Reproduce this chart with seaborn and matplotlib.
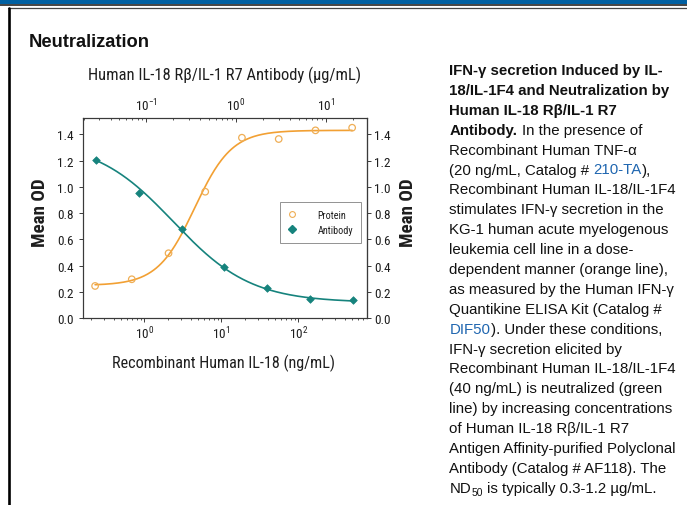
import numpy as np
import pandas as pd
import matplotlib
matplotlib.use("Agg")
import matplotlib.pyplot as plt
import seaborn as sns
from matplotlib import font_manager
from matplotlib.lines import Line2D
from matplotlib.patches import Rectangle
from matplotlib.ticker import FixedLocator, FormatStrFormatter

# ---------------- data ----------------
protein_conc = [0.229, 0.686, 2.06, 6.17, 18.5, 55.6, 167, 500]        # ng/mL (bottom axis)
protein_od = [0.246, 0.297, 0.495, 0.963, 1.374, 1.364, 1.430, 1.450]
antibody_conc = [0.0274, 0.0823, 0.247, 0.741, 2.22, 6.67, 20.0]        # ug/mL (top axis)
antibody_od = [1.204, 0.950, 0.678, 0.389, 0.229, 0.145, 0.137]

# 4-parameter logistic fit parameters (bottom, top, midpoint, hill)
protein_fit = (0.25, 1.43, 4.5, 1.8)
antibody_fit = (0.12, 1.35, 0.20, 1.0)

y_ticks = [0.0, 0.2, 0.4, 0.6, 0.8, 1.0, 1.2, 1.4]
legend_labels = ["Protein", "Antibody"]

top_title = "Human IL-18 R\u03b2/IL-1 R7 Antibody (\u03bcg/mL)"
bottom_title = "Recombinant Human IL-18 (ng/mL)"
y_title = "Mean OD"
heading = "Neutralization"

BLUE_LINK = "#1f66b0"
para = [
    [("IFN-\u03b3 secretion Induced by IL-", "b")],
    [("18/IL-1F4 and Neutralization by", "b")],
    [("Human IL-18 R\u03b2/IL-1 R7", "b")],
    [("Antibody.", "b"), (" In the presence of", "n")],
    [("Recombinant Human TNF-\u03b1", "n")],
    [("(20 ng/mL, Catalog # ", "n"), ("210-TA", "l"), ("),", "n")],
    [("Recombinant Human IL-18/IL-1F4", "n")],
    [("stimulates IFN-\u03b3 secretion in the", "n")],
    [("KG-1 human acute myelogenous", "n")],
    [("leukemia cell line in a dose-", "n")],
    [("dependent manner (orange line),", "n")],
    [("as measured by the Human IFN-\u03b3", "n")],
    [("Quantikine ELISA Kit (Catalog #", "n")],
    [("DIF50", "l"), ("). Under these conditions,", "n")],
    [("IFN-\u03b3 secretion elicited by", "n")],
    [("Recombinant Human IL-18/IL-1F4", "n")],
    [("(40 ng/mL) is neutralized (green", "n")],
    [("line) by increasing concentrations", "n")],
    [("of Human IL-18 R\u03b2/IL-1 R7", "n")],
    [("Antigen Affinity-purified Polyclonal", "n")],
    [("Antibody (Catalog # AF118). The", "n")],
    [("ND", "n"), ("50", "s"), (" is typically 0.3-1.2 \u00b5g/mL.", "n")],
]

# ---------------- style ----------------
sns.set_theme(style="ticks")


def has_font(name):
    try:
        font_manager.findfont(font_manager.FontProperties(family=name), fallback_to_default=False)
        return True
    except Exception:
        return False


def find_condensed():
    for name in ["Liberation Sans Narrow", "Arial Narrow", "Roboto Condensed",
                 "Open Sans Condensed", "Noto Sans Condensed", "DejaVu Sans Condensed"]:
        if has_font(name):
            return name, "normal"
    for f in font_manager.fontManager.ttflist:
        if ("Narrow" in f.name or "Condensed" in f.name) and f.style == "normal":
            return f.name, "normal"
    for f in font_manager.fontManager.ttflist:
        if str(f.stretch) in ("condensed", "semi-condensed") and f.style == "normal":
            return f.name, str(f.stretch)
    return ("Liberation Sans" if has_font("Liberation Sans") else "DejaVu Sans"), "normal"


NARROW, STRETCH = find_condensed()
ARIAL = "Liberation Sans" if has_font("Liberation Sans") else "DejaVu Sans"
plt.rcParams["font.family"] = [NARROW, "DejaVu Sans"]
plt.rcParams["font.stretch"] = STRETCH
plt.rcParams["mathtext.fontset"] = "custom"
plt.rcParams["mathtext.rm"] = NARROW
plt.rcParams["mathtext.it"] = NARROW + ":italic"
plt.rcParams["mathtext.bf"] = NARROW + ":bold"
plt.rcParams["axes.unicode_minus"] = False

ORANGE = "#F2A033"
ORANGE_M = "#EFAE55"
TEAL = "#16837D"
SPINE = "#3a3a3a"
TXT = "#1e1e1e"

W, H = 687, 506
fig = plt.figure(figsize=(W / 100, H / 100), dpi=100)
fig.patch.set_facecolor("white")
renderer = fig.canvas.get_renderer()


def fx(px):
    return px / W


def fy(py):
    return 1 - py / H


def width_of(s, kw):
    t = fig.text(0, 0, s, **kw)
    w = t.get_window_extent(renderer).width
    t.remove()
    return w


def fit_size(s, target_px, **kw):
    w = width_of(s, dict(kw, fontsize=10))
    return 10 * target_px / w


# page decoration
fig.add_artist(Rectangle((0, fy(5.2)), 1, 5.2 / H, transform=fig.transFigure, color="#0060A2", lw=0))
fig.add_artist(Line2D([0, 1], [fy(6.2), fy(6.2)], transform=fig.transFigure, color="#111111", lw=1.1))
fig.add_artist(Line2D([fx(8), 1], [fy(9.3), fy(9.3)], transform=fig.transFigure, color="#444444", lw=0.9))
fig.add_artist(Line2D([fx(8.7), fx(8.7)], [0, fy(9.0)], transform=fig.transFigure, color="#000000", lw=1.9))

# font sizes fitted to the reference text widths
TICK_FS = fit_size("1.4", 16.5)
TITLE_FS = fit_size(top_title, 272)
XLAB_FS = fit_size(bottom_title, 223)
YLAB_FS = fit_size(y_title, 68, fontweight="bold")
LEG_FS = fit_size("Antibody", 35)

# ---------------- axes ----------------
L, R, T, B = 82.7, 366.7, 119.0, 319.3
ax = fig.add_axes([fx(L), fy(B), (R - L) / W, (B - T) / H])
ax.set_xscale("log")
ax.set_xlim(0.158, 773)
ax.set_ylim(0, 1.524)
ax2 = ax.twiny()
ax2.set_xscale("log")
ax2.set_xlim(0.0195, 28.7)


def four_pl(x, p, rising=True):
    bottom, top, mid, hill = p
    x = np.asarray(x, dtype=float)
    if rising:
        return bottom + (top - bottom) * (x / mid) ** hill / (1 + (x / mid) ** hill)
    return bottom + (top - bottom) / (1 + (x / mid) ** hill)


xp = np.logspace(np.log10(protein_conc[0]), np.log10(protein_conc[-1]), 300)
xa = np.logspace(np.log10(antibody_conc[0]), np.log10(antibody_conc[-1]), 300)
df_pc = pd.DataFrame({"x": xp, "y": four_pl(xp, protein_fit, True)})
df_ac = pd.DataFrame({"x": xa, "y": four_pl(xa, antibody_fit, False)})
df_p = pd.DataFrame({"x": protein_conc, "y": protein_od})
df_a = pd.DataFrame({"x": antibody_conc, "y": antibody_od})

sns.lineplot(data=df_pc, x="x", y="y", ax=ax, color=ORANGE, lw=1.2, zorder=2)
sns.scatterplot(data=df_p, x="x", y="y", ax=ax, marker="o", s=22, color=ORANGE_M, zorder=3)
coll = ax.collections[-1]
coll.set_facecolor("none")
coll.set_edgecolor(ORANGE_M)
coll.set_linewidth(0.9)

sns.lineplot(data=df_ac, x="x", y="y", ax=ax2, color=TEAL, lw=1.2, zorder=2)
sns.scatterplot(data=df_a, x="x", y="y", ax=ax2, marker="D", s=15, color=TEAL,
                edgecolor=TEAL, linewidth=0.5, zorder=3)

for a in (ax, ax2):
    a.set_xlabel("")
    a.set_ylabel("")
    for s in a.spines.values():
        s.set_color(SPINE)
        s.set_linewidth(0.8)
        s.set_visible(True)

ax.yaxis.set_major_locator(FixedLocator(y_ticks))
ax.yaxis.set_major_formatter(FormatStrFormatter("%.1f"))
ax.tick_params(axis="y", which="major", direction="out", length=2.9, width=0.7, pad=3.4,
               labelsize=TICK_FS, colors=SPINE, labelcolor=TXT, left=True, right=False)
ax.tick_params(axis="x", which="major", direction="out", length=2.9, width=0.7, pad=1.4,
               labelsize=TICK_FS, colors=SPINE, labelcolor=TXT, bottom=True, top=False)
ax.tick_params(axis="x", which="minor", direction="out", length=1.6, width=0.6,
               colors=SPINE, bottom=True, top=False)

ax2.tick_params(axis="x", which="major", direction="in", length=2.9, width=0.7, pad=3.6,
                labelsize=TICK_FS, colors=SPINE, labelcolor=TXT, top=True, bottom=False)
ax2.tick_params(axis="x", which="minor", direction="in", length=1.6, width=0.6,
                colors=SPINE, top=True, bottom=False)
ax2.tick_params(axis="y", left=False, right=False, labelleft=False, labelright=False)

sec = ax.secondary_yaxis("right")
sec.yaxis.set_major_locator(FixedLocator(y_ticks))
sec.yaxis.set_major_formatter(FormatStrFormatter("%.1f"))
sec.tick_params(axis="y", direction="out", length=2.9, width=0.7, pad=2.4,
                labelsize=TICK_FS, colors=SPINE, labelcolor=TXT)
sec.spines["right"].set_color(SPINE)
sec.spines["right"].set_linewidth(0.8)

# legend
handles = [
    Line2D([], [], ls="none", marker="o", ms=4.2, mfc="none", mec=ORANGE_M, mew=0.8),
    Line2D([], [], ls="none", marker="D", ms=3.6, mfc=TEAL, mec=TEAL),
]
leg = ax.legend(handles, legend_labels, loc="upper left", bbox_to_anchor=(0.695, 0.583),
                frameon=True, fancybox=False, edgecolor="#777777", fontsize=LEG_FS,
                handlelength=0.8, handletextpad=2.1, borderpad=0.8, labelspacing=0.5,
                borderaxespad=0.0)
leg.get_frame().set_linewidth(0.7)
for t in leg.get_texts():
    t.set_color(TXT)

# axis titles
fig.text(fx(224.7), fy(75), top_title, ha="center", va="center", fontsize=TITLE_FS, color=TXT)
fig.text(fx(224.0), fy(363), bottom_title, ha="center", va="center", fontsize=XLAB_FS, color=TXT)
fig.text(fx(40), fy(213), y_title, ha="center", va="center", rotation=90,
         fontsize=YLAB_FS, fontweight="bold", color=TXT)
fig.text(fx(408), fy(213), y_title, ha="center", va="center", rotation=90,
         fontsize=YLAB_FS, fontweight="bold", color=TXT)

# ---------------- heading and paragraph ----------------
fig.text(fx(28.5), fy(47), heading, ha="left", va="baseline", fontsize=13.2,
         fontweight="bold", family=ARIAL, color="#111111")

PSIZE = 10.8
styles = {
    "n": dict(family=ARIAL, fontsize=PSIZE, color="#111111"),
    "b": dict(family=ARIAL, fontsize=PSIZE, color="#111111", fontweight="bold"),
    "l": dict(family=ARIAL, fontsize=PSIZE, color=BLUE_LINK),
    "s": dict(family=ARIAL, fontsize=PSIZE * 0.68, color="#111111"),
}


def advance(s, kw):
    if not s:
        return 0.0
    return width_of("x" + s + "x", kw) - width_of("xx", kw)


x0, y0, step = 449.5, 75.0, 19.9
for i, line in enumerate(para):
    cx = x0
    y = y0 + i * step
    for s, st in line:
        kw = styles[st]
        lead = s[: len(s) - len(s.lstrip(" "))]
        core = s.strip(" ")
        dy = 3.5 if st == "s" else 0.0
        fig.text(fx(cx + advance(lead, kw)), fy(y + dy), core, ha="left", va="baseline", **kw)
        cx += advance(s, kw)

fig.savefig("out.png", dpi=100)
